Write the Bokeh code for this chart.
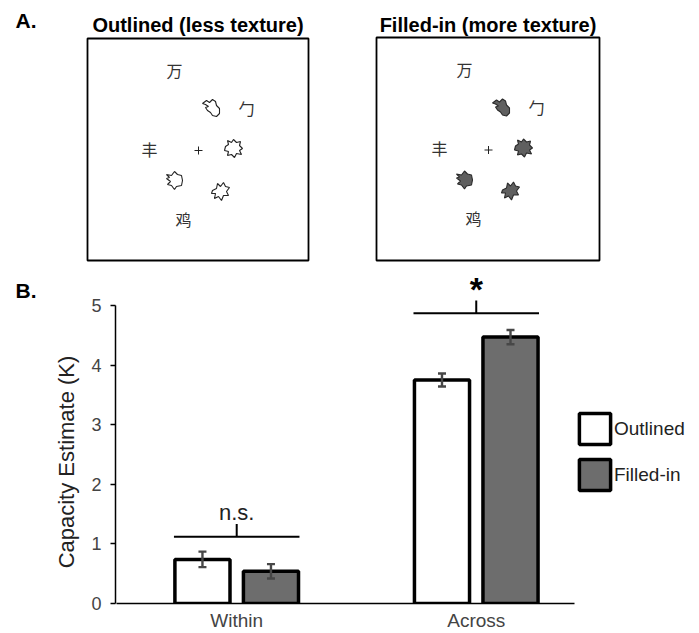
import math
from bokeh.plotting import figure
from bokeh.layouts import column, row
from bokeh.models import (Range1d, FixedTicker, ColumnDataSource, Whisker, TeeHead,
                          Legend, LegendItem)
from bokeh.core.properties import value
from bokeh.embed import file_html
from bokeh.resources import INLINE

# ---------------- data ----------------
conditions = ["Within", "Across"]
outlined_k = [0.74, 3.75]
filled_k = [0.54, 4.47]
outlined_se = [0.13, 0.11]
filled_se = [0.12, 0.12]
sig_labels = ["n.s.", "*"]
bracket_y = [1.12, 4.87]
y_ticks = [0, 1, 2, 3, 4, 5]
y_title = "Capacity Estimate (K)"
series_names = ["Outlined", "Filled-in"]
panel_titles = ["Outlined (less texture)", "Filled-in (more texture)"]
panel_letters = ["A.", "B."]
stim_chars = ["万", "勹", "丰", "鸡"]

FONT = "Liberation Sans"
GRAY = "#6d6d6d"
HA = 264  # split between panel A and panel B (page px)

# ---------------- panel A ----------------
pa = figure(width=699, height=HA, x_range=Range1d(0, 699), y_range=Range1d(HA, 0),
            output_backend="svg", toolbar_location=None, x_axis_location=None,
            y_axis_location=None, min_border=0, frame_align=False)
pa.outline_line_color = None
pa.grid.visible = False

pa.text(x=[15], y=[20], text=[panel_letters[0]], text_font=value(FONT), text_font_style="bold",
        text_font_size="21px", text_align="left", text_baseline="middle", color="black")

box_cx = [197.5, 487.5]
box_cy = [149, 148.5]
box_hw = [110.5, 111.5]
box_hh = [111, 111.5]
pa.text(x=box_cx, y=[24.5, 24.5], text=panel_titles, text_font=value(FONT),
        text_font_style="bold", text_font_size="20px", text_align="center",
        text_baseline="middle", color="black")
pa.quad(left=[c - w for c, w in zip(box_cx, box_hw)], right=[c + w for c, w in zip(box_cx, box_hw)],
        top=[c - h for c, h in zip(box_cy, box_hh)], bottom=[c + h for c, h in zip(box_cy, box_hh)],
        fill_color=None, line_color="black", line_width=1.8)

char_dx = [-23.5, 48.5, -48.5, -14.5]
char_dy = [-80, -42, -1, 69]
for cx, cy in zip(box_cx, box_cy):
    pa.text(x=[cx + d for d in char_dx], y=[cy + d for d in char_dy], text=stim_chars,
            text_font=value("Noto Sans CJK SC"), text_font_size="16px",
            text_align="center", text_baseline="middle", color="#333333")
    # fixation cross
    pa.segment(x0=[cx - 3.5, cx + 0.5], x1=[cx + 4.5, cx + 0.5],
               y0=[cy + 1, cy - 3], y1=[cy + 1, cy + 5], line_color="#222222", line_width=1)

shape_outlines = [
    [(-9, -5), (-5, -8), (-2, -6), (1, -9), (4, -7), (5, -3), (8, 0), (8, 5), (5, 8),
     (1, 7), (-1, 4), (-4, 2), (-6, -1), (-3, -2), (-6, -4)],
    [(-8, -2), (-5, -4), (-6, -8), (-2, -6), (0, -9), (3, -6), (7, -7), (6, -3), (9, 0),
     (6, 2), (8, 6), (3, 5), (1, 9), (-2, 6), (-6, 7), (-5, 3), (-9, 2)],
    [(-8, -6), (-3, -5), (0, -9), (3, -6), (7, -5), (8, 0), (7, 5), (2, 6), (0, 9),
     (-3, 5), (-7, 4), (-4, 1), (-8, -2), (-5, -3)],
    [(-8, -1), (-4, -3), (-3, -8), (0, -5), (3, -9), (5, -5), (9, -4), (6, 0), (8, 4),
     (3, 4), (1, 9), (-2, 5), (-6, 7), (-5, 2), (-9, 2)],
]
shape_dx = [13.5, 35.5, -23.5, 22.5]
shape_dy = [-41, -1, 31, 42]
shape_fill = ["white", "#5f5f5f"]
shape_line = ["#222222", "#2a2a2a"]
for cx, cy, fc, lc in zip(box_cx, box_cy, shape_fill, shape_line):
    xs = [[cx + sx + px for px, _ in pts] for pts, sx in zip(shape_outlines, shape_dx)]
    ys = [[cy + sy + py for _, py in pts] for pts, sy in zip(shape_outlines, shape_dy)]
    pa.patches(xs=xs, ys=ys, fill_color=fc, line_color=lc, line_width=1.1)

# ---------------- panel B: left strip (letter + y title) ----------------
HB = 633 - HA
LW = 80
pl = figure(width=LW, height=HB, x_range=Range1d(0, LW), y_range=Range1d(633, HA),
            output_backend="svg", toolbar_location=None, x_axis_location=None,
            y_axis_location=None, min_border=0, frame_align=False)
pl.outline_line_color = None
pl.grid.visible = False
pl.text(x=[15], y=[290], text=[panel_letters[1]], text_font=value(FONT), text_font_style="bold",
        text_font_size="21px", text_align="left", text_baseline="middle", color="black")
pl.text(x=[66], y=[461.5], text=[y_title], angle=math.pi / 2, text_font=value(FONT),
        text_font_size="22px", text_align="center", text_baseline="middle", color="#222222")

# ---------------- panel B: chart ----------------
pb = figure(width=699 - LW, height=HB, x_range=Range1d(-0.006, 2.432), y_range=Range1d(0, 5.688),
            output_backend="svg", toolbar_location=None, min_border_left=115 - LW,
            min_border_right=0, min_border_top=0, min_border_bottom=30, frame_align=False)
pb.outline_line_color = None
pb.grid.visible = False

centers = [i + 0.5 for i in range(len(conditions))]
off = 0.143
bw = 0.23
src = ColumnDataSource(dict(
    xo=[c - off for c in centers], xf=[c + off for c in centers],
    to=outlined_k, tf=filled_k,
    lo=[v - e for v, e in zip(outlined_k, outlined_se)], uo=[v + e for v, e in zip(outlined_k, outlined_se)],
    lf=[v - e for v, e in zip(filled_k, filled_se)], uf=[v + e for v, e in zip(filled_k, filled_se)],
))
r_out = pb.vbar(x="xo", top="to", width=bw, bottom=0, source=src, fill_color="white",
                line_color="black", line_width=3.5)
r_fil = pb.vbar(x="xf", top="tf", width=bw, bottom=0, source=src, fill_color=GRAY,
                line_color="black", line_width=3.5)

EB = "#474747"
for base, lo, up in [("xo", "lo", "uo"), ("xf", "lf", "uf")]:
    w = Whisker(base=base, lower=lo, upper=up, source=src, line_color=EB, line_width=2.4,
                level="overlay",
                upper_head=TeeHead(size=8, line_color=EB, line_width=2.4),
                lower_head=TeeHead(size=8, line_color=EB, line_width=2.4))
    pb.add_layout(w)

# significance brackets
half = 0.262
pb.segment(x0=[c - half for c in centers], x1=[c + half for c in centers],
           y0=bracket_y, y1=bracket_y, line_color="black", line_width=2)
pb.segment(x0=centers, x1=centers, y0=bracket_y, y1=[b + 0.215 for b in bracket_y],
           line_color="black", line_width=2)
pb.text(x=[centers[0]], y=[bracket_y[0] + 0.40], text=[sig_labels[0]], text_font=value(FONT),
        text_font_size="22px", text_align="center", text_baseline="middle", color="#222222")
pb.text(x=[centers[1]], y=[bracket_y[1] + 0.40], text=[sig_labels[1]], text_font=value(FONT),
        text_font_style="bold", text_font_size="34px", text_align="center",
        text_baseline="middle", color="black")

# axes
pb.yaxis.ticker = FixedTicker(ticks=y_ticks)
pb.yaxis.bounds = (0, 5)
pb.yaxis.major_label_text_font = FONT
pb.yaxis.major_label_text_font_size = "18px"
pb.yaxis.major_label_text_color = "#444444"
pb.yaxis.major_label_standoff = 9
pb.yaxis.major_tick_out = 5
pb.yaxis.major_tick_in = 0
pb.yaxis.minor_tick_line_color = None
pb.yaxis.axis_line_width = 1.5
pb.yaxis.major_tick_line_width = 1.5

pb.xaxis.ticker = FixedTicker(ticks=centers)
pb.xaxis.major_label_overrides = {c: n for c, n in zip(centers, conditions)}
pb.xaxis.bounds = (0, 1.91)
pb.xaxis.major_tick_in = 0
pb.xaxis.major_tick_out = 0
pb.xaxis.minor_tick_line_color = None
pb.xaxis.major_label_text_font = FONT
pb.xaxis.major_label_text_font_size = "19px"
pb.xaxis.major_label_text_color = "#444444"
pb.xaxis.major_label_standoff = 6
pb.xaxis.axis_line_width = 1.5

legend = Legend(items=[LegendItem(label=series_names[0], renderers=[r_out]),
                       LegendItem(label=series_names[1], renderers=[r_fil])],
                location=(460, 109), orientation="vertical", glyph_width=39, glyph_height=39,
                spacing=7, padding=0, margin=0, label_standoff=0, border_line_color=None,
                background_fill_alpha=0, label_text_font=FONT, label_text_font_size="19px",
                label_text_color="#222222")
pb.add_layout(legend)

layout = column(pa, row(pl, pb))
open("out.html", "w").write(file_html(layout, INLINE))
